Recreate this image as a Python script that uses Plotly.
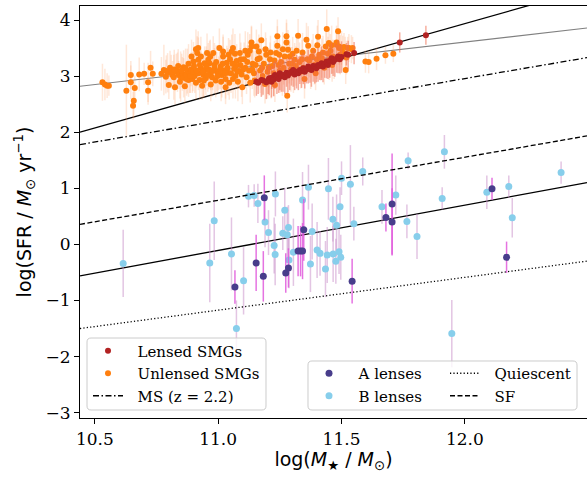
import plotly.graph_objects as go

# ---------------- data ----------------
# Unlensed SMGs: (log M*, log SFR, error)
UNLENSED = [
    (10.531, 2.89, 0.33), (10.541, 2.85, 0.28), (10.550, 2.83, 0.22), (10.557, 2.83, 0.18),
    (10.628, 2.74, 0.82), (10.646, 2.89, 0.30), (10.646, 3.02, 0.25), (10.662, 2.79, 0.22),
    (10.658, 2.56, 0.30), (10.655, 2.47, 0.25), (10.680, 3.03, 0.30), (10.700, 3.04, 0.20),
    (10.716, 2.89, 0.35), (10.716, 2.74, 0.25), (10.726, 3.15, 0.30), (10.735, 3.04, 0.22),
    (10.770, 3.04, 0.30), (10.780, 3.11, 0.45), (10.788, 2.99, 0.30), (10.800, 2.84, 0.25),
    (10.795, 3.06, 0.35), (10.790, 3.09, 0.28),
    (10.810, 3.08, 0.30), (10.815, 3.02, 0.25), (10.820, 2.98, 0.40), (10.825, 2.80, 0.30),
    (10.830, 3.10, 0.30), (10.835, 3.07, 0.35), (10.840, 3.02, 0.25), (10.845, 2.90, 0.30),
    (10.848, 2.99, 0.45), (10.855, 3.04, 0.30), (10.860, 2.97, 0.35), (10.865, 2.82, 0.30),
    (10.870, 3.02, 0.25), (10.875, 3.09, 0.40), (10.880, 2.93, 0.30), (10.885, 3.05, 0.35),
    (10.890, 3.12, 0.30), (10.895, 2.95, 0.25), (10.860, 3.16, 0.30), (10.880, 3.22, 0.35),
    (10.892, 3.35, 0.30), (10.900, 3.26, 0.35),
    (10.905, 3.00, 0.30), (10.910, 3.48, 0.35), (10.915, 3.41, 0.30), (10.920, 3.29, 0.40),
    (10.920, 3.05, 0.30), (10.925, 2.93, 0.35), (10.930, 3.14, 0.30), (10.935, 2.83, 0.25),
    (10.940, 3.02, 0.40), (10.945, 3.23, 0.30), (10.948, 3.11, 0.35), (10.950, 2.96, 0.30),
    (10.910, 2.88, 0.30), (10.930, 3.35, 0.35), (10.919, 3.50, 0.30),
    (10.955, 3.41, 0.35), (10.960, 3.29, 0.30), (10.965, 3.23, 0.40), (10.970, 3.05, 0.30),
    (10.975, 2.98, 0.35), (10.980, 3.41, 0.30), (10.985, 3.14, 0.45), (10.990, 2.92, 0.30),
    (10.995, 3.08, 0.35), (10.970, 2.85, 0.30), (10.985, 3.20, 0.30), (10.962, 3.12, 0.35),
    (11.005, 3.50, 0.35), (11.010, 3.17, 0.30), (11.015, 3.02, 0.40), (11.020, 3.44, 0.30),
    (11.020, 3.35, 0.35), (11.025, 3.10, 0.30), (11.030, 2.95, 0.35), (11.035, 3.24, 0.30),
    (11.040, 3.06, 0.40), (11.045, 2.88, 0.30), (11.048, 3.30, 0.35), (11.030, 2.80, 0.30),
    (11.002, 3.05, 0.30), (11.012, 2.90, 0.35),
    (11.055, 3.44, 0.30), (11.060, 3.50, 0.35), (11.065, 3.13, 0.30), (11.070, 3.00, 0.40),
    (11.075, 3.27, 0.30), (11.080, 2.90, 0.35), (11.085, 3.09, 0.30), (11.088, 3.41, 0.35),
    (11.090, 3.20, 0.30), (11.095, 3.03, 0.40), (11.098, 2.80, 0.30), (11.060, 2.95, 0.35),
    (11.072, 3.18, 0.30), (11.052, 3.05, 0.35),
    (11.105, 3.30, 0.30), (11.110, 3.15, 0.35), (11.115, 2.98, 0.30), (11.120, 3.38, 0.40),
    (11.125, 3.10, 0.30), (11.130, 2.88, 0.35), (11.135, 3.60, 0.30), (11.135, 3.53, 0.35),
    (11.140, 3.22, 0.30), (11.145, 3.05, 0.40), (11.148, 2.92, 0.30), (11.110, 3.45, 0.35),
    (11.155, 3.53, 0.30), (11.160, 3.30, 0.35), (11.165, 3.44, 0.30), (11.170, 3.10, 0.40),
    (11.175, 3.64, 0.30), (11.180, 3.00, 0.35), (11.185, 3.22, 0.30), (11.190, 2.86, 0.35),
    (11.195, 3.38, 0.30), (11.200, 3.08, 0.40), (11.200, 2.90, 0.30),
    (11.205, 3.15, 0.35), (11.210, 3.30, 0.30), (11.215, 2.95, 0.35), (11.220, 3.18, 0.30),
    (11.225, 3.05, 0.40), (11.230, 2.84, 0.30), (11.235, 3.41, 0.35), (11.240, 3.71, 0.30),
    (11.240, 3.54, 0.35), (11.245, 3.20, 0.30), (11.250, 3.10, 0.40),
    (11.255, 3.25, 0.30), (11.260, 3.00, 0.35), (11.265, 3.15, 0.30), (11.270, 3.35, 0.35),
    (11.277, 3.71, 0.30), (11.277, 3.60, 0.35), (11.280, 2.65, 0.30), (11.283, 3.47, 0.35),
    (11.290, 3.35, 0.30), (11.295, 3.12, 0.40), (11.300, 3.22, 0.30),
    (11.305, 3.05, 0.35), (11.310, 3.29, 0.30), (11.315, 3.18, 0.35), (11.324, 3.72, 0.30),
    (11.330, 3.25, 0.35), (11.335, 3.08, 0.30), (11.340, 3.30, 0.35), (11.345, 3.15, 0.30),
    (11.350, 2.95, 0.35),
    (11.358, 3.65, 0.30), (11.365, 3.54, 0.35), (11.370, 3.28, 0.30), (11.375, 3.12, 0.35),
    (11.380, 3.35, 0.30), (11.390, 3.20, 0.35), (11.395, 3.05, 0.30), (11.400, 3.30, 0.35),
    (11.405, 3.70, 0.30), (11.410, 3.38, 0.35), (11.415, 3.22, 0.30), (11.420, 3.32, 0.35),
    (11.430, 3.15, 0.30), (11.440, 3.84, 0.35), (11.445, 3.40, 0.30), (11.450, 3.28, 0.35),
    (11.436, 3.53, 0.30), (11.449, 3.59, 0.25),
    (11.455, 3.45, 0.30), (11.460, 3.55, 0.35), (11.465, 3.35, 0.30), (11.470, 3.30, 0.35),
    (11.480, 3.60, 0.30), (11.486, 3.80, 0.25), (11.490, 3.50, 0.30), (11.495, 3.38, 0.35),
    (11.500, 3.50, 0.30), (11.480, 3.56, 0.25), (11.490, 3.53, 0.30),
    (11.505, 3.42, 0.30), (11.510, 3.52, 0.25), (11.517, 3.11, 0.25), (11.520, 3.33, 0.30),
    (11.530, 3.50, 0.25), (11.540, 3.48, 0.25), (11.525, 3.50, 0.20), (11.545, 3.50, 0.20),
    (11.597, 3.26, 0.20), (11.610, 3.25, 0.20), (11.642, 3.31, 0.20), (11.678, 3.37, 0.15),
    (11.710, 3.40, 0.15),
    (10.805, 3.15, 0.30), (10.822, 3.12, 0.35), (10.838, 3.18, 0.30), (10.852, 3.10, 0.30),
    (10.868, 3.14, 0.35), (10.872, 2.95, 0.30), (10.887, 3.00, 0.30), (10.898, 3.08, 0.35),
    (10.902, 3.18, 0.30), (10.912, 3.10, 0.30), (10.926, 3.20, 0.35), (10.938, 3.08, 0.30),
    (10.942, 2.92, 0.30), (10.952, 3.18, 0.35), (10.958, 3.02, 0.30), (10.968, 3.35, 0.30),
    (10.978, 3.10, 0.35), (10.992, 3.25, 0.30), (10.998, 3.00, 0.30), (11.008, 3.12, 0.35),
    (11.018, 3.22, 0.30), (11.028, 3.05, 0.30), (11.038, 3.15, 0.35), (11.042, 3.38, 0.30),
    (11.058, 3.22, 0.30), (11.068, 3.40, 0.35), (11.078, 3.08, 0.30), (11.092, 3.30, 0.30),
    (11.102, 3.12, 0.35), (11.118, 3.25, 0.30), (11.128, 3.45, 0.30), (11.138, 3.12, 0.35),
    (11.152, 3.20, 0.30), (11.168, 3.32, 0.30), (11.178, 3.15, 0.35), (11.192, 3.48, 0.30),
    (11.212, 3.42, 0.30), (11.228, 3.28, 0.35), (11.248, 3.38, 0.30), (11.262, 3.48, 0.30),
    (11.288, 3.22, 0.35), (11.302, 3.40, 0.30), (11.318, 3.45, 0.30), (11.342, 3.42, 0.35),
    (11.362, 3.30, 0.30), (11.385, 3.45, 0.30), (11.402, 3.55, 0.35), (11.425, 3.42, 0.30),
    (11.462, 3.20, 0.30), (11.515, 3.40, 0.30),
]

# Lensed SMGs: (log M*, log SFR, error)
LENSED = [
    (11.155, 2.90, 0.25), (11.162, 2.88, 0.20), (11.175, 2.93, 0.30), (11.182, 2.92, 0.25),
    (11.195, 2.89, 0.30), (11.203, 2.93, 0.25), (11.207, 2.96, 0.30), (11.216, 2.90, 0.28),
    (11.217, 2.97, 0.20), (11.225, 2.94, 0.30), (11.230, 3.02, 0.25), (11.238, 2.98, 0.30),
    (11.245, 2.95, 0.25), (11.250, 3.05, 0.30), (11.256, 3.00, 0.28), (11.263, 3.02, 0.30),
    (11.270, 2.98, 0.30), (11.277, 3.06, 0.25), (11.283, 3.01, 0.30), (11.290, 3.05, 0.30),
    (11.297, 3.08, 0.25), (11.304, 3.11, 0.30), (11.310, 3.03, 0.28), (11.318, 3.08, 0.30),
    (11.325, 3.05, 0.30), (11.331, 3.11, 0.25), (11.338, 3.09, 0.30), (11.345, 3.14, 0.28),
    (11.351, 3.08, 0.30), (11.358, 3.12, 0.25), (11.365, 3.17, 0.30), (11.372, 3.13, 0.25),
    (11.378, 3.11, 0.30), (11.385, 3.18, 0.28), (11.392, 3.17, 0.30), (11.398, 3.14, 0.25),
    (11.405, 3.20, 0.30), (11.412, 3.18, 0.25), (11.419, 3.23, 0.30), (11.425, 3.17, 0.28),
    (11.432, 3.22, 0.25), (11.439, 3.26, 0.30), (11.445, 3.20, 0.25), (11.452, 3.27, 0.30),
    (11.460, 3.32, 0.28), (11.466, 3.25, 0.25), (11.473, 3.29, 0.30), (11.480, 3.31, 0.25),
    (11.486, 3.35, 0.30), (11.493, 3.30, 0.25), (11.500, 3.34, 0.28), (11.520, 3.39, 0.20),
    (11.527, 3.38, 0.25), (11.551, 3.41, 0.20), (11.736, 3.60, 0.18), (11.842, 3.73, 0.17),
]

# A lenses
A_X = [11.068, 11.154, 11.183, 11.187, 11.274, 11.285, 11.324, 11.334, 11.342, 11.347,
       11.543, 11.680, 11.705, 11.705, 12.110, 12.169]
A_Y = [-0.76, -0.33, -0.57, 0.83, -0.51, -0.42, -0.12, -0.12, -0.12, 0.26,
       -0.655, 0.48, 0.72, 0.40, 0.99, -0.23]
A_ERR = [0.30, 0.50, 0.45, 0.40, 0.35, 0.35, 0.45, 0.45, 0.50, 0.55,
         0.40, 0.25, 0.90, 0.60, 0.20, 0.28]

# B lenses
B_X = [10.615, 10.966, 10.984, 11.054, 11.074, 11.103, 11.123, 11.146, 11.161, 11.190,
       11.204, 11.227, 11.232, 11.231, 11.262, 11.270, 11.280, 11.285, 11.287, 11.305,
       11.342, 11.366, 11.374, 11.381, 11.401, 11.413, 11.435, 11.442, 11.447, 11.466,
       11.465, 11.477, 11.480, 11.490, 11.494, 11.500, 11.497, 11.536, 11.550, 11.586,
       11.664, 11.720, 11.765, 11.770, 11.806, 11.908, 11.917, 11.947, 12.089, 12.178,
       12.192, 12.390]
B_Y = [-0.34, -0.33, 0.42, -0.17, -1.50, -0.65, 0.86, 0.87, 0.73, 0.40,
       0.21, -0.02, 0.90, -0.18, 0.20, 0.61, 0.17, 0.30, -0.28, -0.14,
       0.79, 1.02, -0.35, 0.23, -0.10, -0.16, -0.44, -0.19, 0.99, -0.17,
       0.45, -0.30, 0.34, -0.13, 0.67, 1.18, -0.23, 1.07, 0.37, 1.30,
       0.67, 0.88, 0.41, 1.49, 0.14, 0.82, 1.65, -1.59, 0.93, 1.03,
       0.475, 1.28]
B_ERR = [0.60, 0.70, 0.70, 0.65, 0.50, 0.60, 0.20, 0.20, 0.35, 0.45,
         0.40, 0.50, 0.40, 0.55, 0.30, 0.40, 0.50, 0.40, 0.50, 0.60,
         0.50, 0.40, 0.50, 0.50, 0.50, 0.40, 0.50, 0.50, 0.55, 0.50,
         0.40, 0.40, 0.55, 0.40, 0.35, 0.30, 0.40, 0.70, 0.30, 0.25,
         0.30, 0.35, 0.30, 0.15, 0.40, 0.20, 0.30, 0.60, 0.30, 0.20,
         0.35, 0.20]

# Reference relations, evaluated at the axis edges
LINE_X = [10.44, 12.495]
FIT_SMG_Y = [2.82, 3.857]      # grey
LENSED_FIT_Y = [2.00, 4.552]   # black solid (upper)
MS_Y = [1.78, 3.33]            # dash-dot
SF_Y = [0.357, 1.934]          # dashed
LENS_FIT_Y = [-0.56, 1.10]     # black solid (lower)
QUIES_Y = [-1.50, -0.298]      # dotted

X_TICKS = [10.5, 11.0, 11.5, 12.0]
Y_TICKS = [-3, -2, -1, 0, 1, 2, 3, 4]

# ---------------- figure ----------------
W, H = 587, 481
ML, MR, MT, MB = 80, 0, 6, 63
SERIF = "DejaVu Serif"
SANS = "DejaVu Sans"
NB = "\u00a0\u00a0"

pw = W - ML - MR
ph = H - MT - MB
def px2paper(x, y):
    return (x - ML) / pw, (H - MB - y) / ph

# legend slot for each labelled entry: (item left px, row centre px)
SLOTS = {
    "Lensed SMGs": ("legend", 88, 351),
    "Unlensed SMGs": ("legend2", 88, 373.5),
    "MS (z = 2.2)": ("legend3", 88, 396),
    "A lenses": ("legend4", 309, 373.5),
    "B lenses": ("legend5", 309, 396),
    "Quiescent": ("legend6", 445, 373.5),
    "SF": ("legend7", 445, 396),
}

fig = go.Figure()

def line(y, dash, color="black", width=1.3, name=None):
    fig.add_trace(go.Scatter(
        x=LINE_X, y=y, mode="lines", line=dict(color=color, width=width, dash=dash),
        name=NB + name if name else "", showlegend=name is not None,
        legend=SLOTS[name][0] if name else None, hoverinfo="skip"))

line(FIT_SMG_Y, "solid", color="#808080", width=1.1)
line(LENSED_FIT_Y, "solid")
line(LENS_FIT_Y, "solid")

ux = [p[0] for p in UNLENSED]; uy = [p[1] for p in UNLENSED]; ue = [p[2] for p in UNLENSED]
lx = [p[0] for p in LENSED]; ly = [p[1] for p in LENSED]; le = [p[2] for p in LENSED]

def pts(x, y, err, name, color, size, ecolor):
    fig.add_trace(go.Scatter(
        x=x, y=y, mode="markers", name=NB + name, legend=SLOTS[name][0],
        marker=dict(color=color, size=size),
        error_y=dict(type="data", array=err, color=ecolor, thickness=1.5, width=0)))

pts(B_X, B_Y, B_ERR, "B lenses", "#87ceeb", 7, "rgba(200,140,200,0.5)")
pts(A_X, A_Y, A_ERR, "A lenses", "#483d8b", 7, "rgba(225,90,220,0.85)")
pts(ux, uy, ue, "Unlensed SMGs", "#ff7f0e", 6, "rgba(255,160,100,0.25)")
pts(lx, ly, le, "Lensed SMGs", "#b22222", 6, "rgba(240,110,80,0.55)")

line(MS_Y, "6px,2.5px,1.5px,2.5px", name="MS (z = 2.2)")
line(QUIES_Y, "1.2px,2.2px", name="Quiescent")
line(SF_Y, "5px,2.5px", name="SF")

def rounded_box(x0, y0, x1, y1, r=4):
    def P(x, y):
        a, b = px2paper(x, y)
        return f"{a:.5f},{b:.5f}"
    path = (f"M {P(x0 + r, y0)} L {P(x1 - r, y0)} Q {P(x1, y0)} {P(x1, y0 + r)} "
            f"L {P(x1, y1 - r)} Q {P(x1, y1)} {P(x1 - r, y1)} L {P(x0 + r, y1)} "
            f"Q {P(x0, y1)} {P(x0, y1 - r)} L {P(x0, y0 + r)} Q {P(x0, y0)} {P(x0 + r, y0)} Z")
    return dict(type="path", path=path, xref="paper", yref="paper", layer="above",
                fillcolor="rgba(255,255,255,0.8)", line=dict(color="#cccccc", width=1))

legends = {}
for name, (lid, xpx, ypx) in SLOTS.items():
    x, y = px2paper(xpx, ypx)
    legends[lid] = dict(x=x, y=y, xanchor="left", yanchor="middle",
                        bgcolor="rgba(0,0,0,0)", borderwidth=0,
                        font=dict(family=SERIF, size=15, color="black"),
                        itemclick=False, itemdoubleclick=False)

fig.update_layout(
    width=W, height=H,
    margin=dict(l=ML, r=MR, t=MT, b=MB),
    paper_bgcolor="white", plot_bgcolor="white",
    shapes=[rounded_box(87, 338, 266, 410), rounded_box(308, 361, 577, 410)],
    xaxis=dict(range=[10.44, 12.495], tickvals=X_TICKS, ticktext=[f"{v:.1f}" for v in X_TICKS],
               showgrid=False, zeroline=False, showline=True, linecolor="black", linewidth=1.2,
               mirror=True, ticks="outside", ticklen=5, tickwidth=1.2, tickcolor="black",
               tickfont=dict(family=SERIF, size=17, color="black"),
               title=dict(text="log(<i>M</i><sub>★</sub> / <i>M</i><sub>⊙</sub>)",
                          font=dict(family=SANS, size=19, color="black"), standoff=5)),
    yaxis=dict(range=[-3.095, 4.25], tickvals=Y_TICKS,
               ticktext=[("−" + str(-v)) if v < 0 else str(v) for v in Y_TICKS],
               showgrid=False, zeroline=False, showline=True, linecolor="black", linewidth=1.2,
               mirror=False, ticks="outside", ticklen=5, tickwidth=1.2, tickcolor="black",
               tickfont=dict(family=SERIF, size=17, color="black"),
               title=dict(text="log(SFR / <i>M</i><sub>⊙</sub> yr<sup>−1</sup>)",
                          font=dict(family=SANS, size=19, color="black"), standoff=8)),
    showlegend=True,
    **legends,
)

fig.write_html("out.html")
